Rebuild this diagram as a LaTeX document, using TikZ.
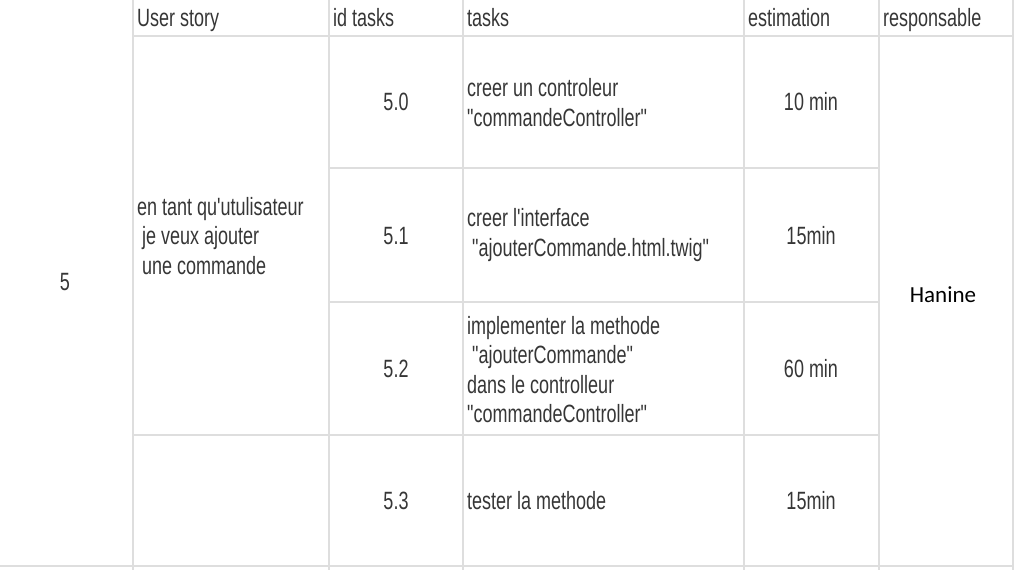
\documentclass[tikz,border=0pt]{standalone}
\usepackage{fontspec}
\setmainfont{Liberation Sans}[FakeStretch=0.72, Ligatures=TeXOff]
\newfontfamily\handfont{Carlito}
\usepackage{xcolor}
\usetikzlibrary{calc}
\definecolor{gridgray}{HTML}{DEDEDE}
\definecolor{textgray}{HTML}{363636}

\begin{document}
\begin{tikzpicture}[x=1pt,y=-1pt,
		grid/.style={draw=gridgray, line width=1.6pt},
		cell/.style={anchor=west, align=left},
		head/.style={anchor=base west},
		num/.style={anchor=center}]
		\tikzstyle{every node}=[inner sep=0pt, text=textgray, font=\fontsize{25}{29.5}\selectfont]
		\useasboundingbox (0,0) rectangle (1014,570);
		% grid
		\foreach \x in {133,329,463,744,879,1013}
		\draw[grid] (\x,0) -- (\x,570);
		\draw[grid] (133,36) -- (1014,36);
		\draw[grid] (329,168) -- (879,168);
		\draw[grid] (329,302) -- (879,302);
		\draw[grid] (133,435) -- (879,435);
		\draw[grid] (0,566) -- (1014,566);
		% header
		\node[head] (hstory) at (137,27) {User story};
		\node[head] (hid) at (333,27) {id tasks};
		\node[head] (htask) at (467,27) {tasks};
		\node[head] (hest) at (748,27) {estimation};
		\node[head] (hresp) at (883,27) {responsable};
		% body
		\node[num] (sprint) at (65,282) {5};
		\node[cell] (story) at (137,236) {en tant qu'utulisateur\\\ je veux ajouter\\\ une commande};
		\foreach \i/\y in {0/102,1/236,2/369,3/501}
		\node[num] (id\i) at (396,\y) {5.\i};
		\node[cell] (task0) at (467,102.5) {creer un controleur\\"commandeController"};
		\node[cell] (task1) at (467,235) {creer l'interface\\\ "ajouterCommande.html.twig"};
		\node[cell] (task2) at (467,369.5) {implementer la methode\\\ "ajouterCommande"\\dans le controlleur\\"commandeController"};
		\node[cell] (task3) at (467,501) {tester la methode};
		\node[num] (est0) at (811,102) {10 min};
		\node[num] (est1) at (811,236) {15min};
		\node[num] (est2) at (811,369) {60 min};
		\node[num] (est3) at (811,501) {15min};
		\node[num, text=black, font=\handfont\fontsize{23}{28}\selectfont] (resp) at (943,295) {Hanine};
	\end{tikzpicture}
\end{document}
